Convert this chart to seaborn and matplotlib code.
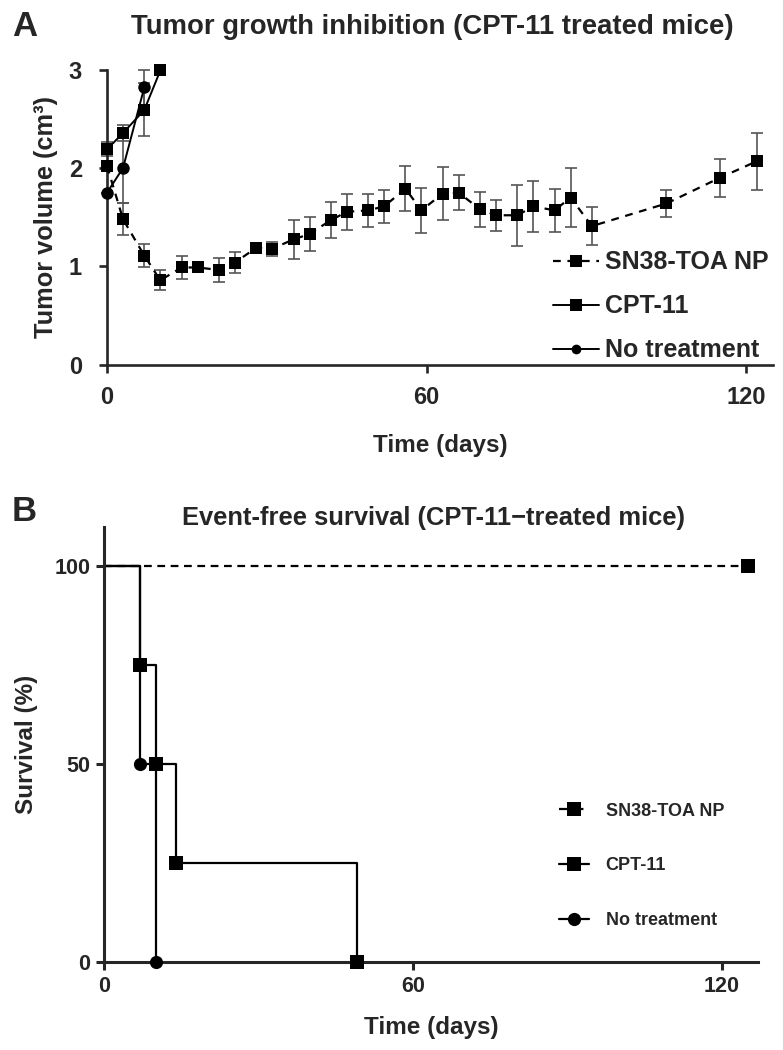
import seaborn as sns
import numpy as np
import pandas as pd
import matplotlib.pyplot as plt
from matplotlib.lines import Line2D

# panel A: tumor volume (cm3), mean +/- error
sn38_days = [0, 3, 7, 10, 14, 17, 21, 24, 28, 31, 35, 38, 42, 45, 49, 52, 56, 59, 63, 66,
             70, 73, 77, 80, 84, 87, 91, 105, 115, 122]
sn38_vol = [2.02, 1.48, 1.11, 0.86, 0.99, 0.99, 0.965, 1.04, 1.19, 1.18, 1.275, 1.33, 1.47, 1.555,
            1.57, 1.61, 1.79, 1.57, 1.74, 1.75, 1.58, 1.52, 1.52, 1.61, 1.57, 1.70, 1.41, 1.64,
            1.90, 2.07]
sn38_err = [0.04, 0.16, 0.12, 0.10, 0.12, 0.03, 0.12, 0.11, 0.05, 0.07, 0.20, 0.17, 0.18, 0.18,
            0.17, 0.17, 0.23, 0.23, 0.27, 0.18, 0.18, 0.155, 0.31, 0.26, 0.22, 0.30, 0.195, 0.14,
            0.19, 0.29]

cpt_days = [0, 3, 7, 10]
cpt_vol = [2.19, 2.355, 2.59, 2.99]
cpt_err = [0.07, 0.085, 0.27, 0.0]

nt_days = [0, 3, 7]
nt_vol = [1.75, 2.0, 2.82]
nt_err = [0.0, 0.36, 0.18]

# panel B: event-free survival (%)
surv_sn38_t = [0, 125]
surv_sn38 = [100, 100]
surv_cpt_t = [0, 7, 10, 14, 49]
surv_cpt = [100, 75, 50, 25, 0]
surv_nt_t = [0, 7, 10]
surv_nt = [100, 50, 0]

labels = ["SN38-TOA NP", "CPT-11", "No treatment"]

sns.set_style("ticks")
plt.rcParams['font.family'] = ['Liberation Sans', 'DejaVu Sans']
plt.rcParams['font.weight'] = 'bold'
plt.rcParams['axes.labelweight'] = 'bold'

fig = plt.figure(figsize=(7.83, 10.5), dpi=100)

# ---------- A ----------
ax1 = fig.add_axes([0.1367, 0.6524, 0.8506, 0.2814])
ecol = "#555555"
for d, v, e in [(sn38_days, sn38_vol, sn38_err), (cpt_days, cpt_vol, cpt_err), (nt_days, nt_vol, nt_err)]:
    ax1.errorbar(d, v, yerr=e, fmt='none', ecolor=ecol, elinewidth=1.2, capsize=4.5,
                 capthick=1.2, zorder=2, clip_on=False)

dfA1 = pd.DataFrame({"day": sn38_days, "vol": sn38_vol})
dfA2 = pd.DataFrame({"day": cpt_days, "vol": cpt_vol})
dfA3 = pd.DataFrame({"day": nt_days, "vol": nt_vol})
sns.lineplot(data=dfA1, x="day", y="vol", ax=ax1, color="k", linestyle=(0, (3.5, 3)),
             linewidth=1.6, marker="s", markersize=9, markeredgewidth=0, errorbar=None,
             clip_on=False, zorder=3)
sns.lineplot(data=dfA2, x="day", y="vol", ax=ax1, color="k", linewidth=1.4,
             marker="s", markersize=9, markeredgewidth=0, errorbar=None, clip_on=False, zorder=3)
sns.lineplot(data=dfA3, x="day", y="vol", ax=ax1, color="k", linewidth=1.4,
             marker="o", markersize=9, markeredgewidth=0, errorbar=None, clip_on=False, zorder=3)

ax1.set_xlim(0, 125)
ax1.set_ylim(0, 3)
ax1.set_xticks([0, 60, 120])
ax1.set_yticks([0, 1, 2, 3])
sns.despine(ax=ax1)
for s in ["left", "bottom"]:
    ax1.spines[s].set_linewidth(1.9)
ax1.tick_params(width=1.9, length=6, labelsize=17)
ax1.tick_params(axis="x", pad=9)
ax1.tick_params(axis="y", pad=12)
ax1.set_xlabel("Time (days)", fontsize=17.5, labelpad=18)
ax1.set_ylabel("Tumor volume (cm\u00b3)", fontsize=18.3, labelpad=8)

handlesA = [
    Line2D([], [], color="k", linestyle=(0, (3.5, 3)), linewidth=1.6, marker="s", markersize=9, markeredgewidth=0),
    Line2D([], [], color="k", linewidth=1.4, marker="s", markersize=9, markeredgewidth=0),
    Line2D([], [], color="k", linewidth=1.4, marker="o", markersize=7, markeredgewidth=0),
]
ax1.legend(handlesA, labels, loc="center left", bbox_to_anchor=(0.669, 0.198), frameon=False,
           fontsize=18, handlelength=1.85, handletextpad=0.25, labelspacing=0.8,
           borderpad=0, borderaxespad=0)

# ---------- B ----------
ax2 = fig.add_axes([0.1332, 0.0841, 0.8349, 0.4143])
dfB1 = pd.DataFrame({"t": surv_sn38_t, "s": surv_sn38})
dfB2 = pd.DataFrame({"t": surv_cpt_t, "s": surv_cpt})
dfB3 = pd.DataFrame({"t": surv_nt_t, "s": surv_nt})
sns.lineplot(data=dfB1, x="t", y="s", ax=ax2, color="k", linestyle=(0, (3.5, 2.5)), linewidth=1.6,
             drawstyle="steps-post", errorbar=None, clip_on=False)
sns.lineplot(data=dfB2, x="t", y="s", ax=ax2, color="k", linewidth=1.6,
             drawstyle="steps-post", errorbar=None, clip_on=False)
sns.lineplot(data=dfB3, x="t", y="s", ax=ax2, color="k", linewidth=1.6,
             drawstyle="steps-post", errorbar=None, clip_on=False)
sns.scatterplot(data=dfB1[dfB1.t > 0], x="t", y="s", ax=ax2, color="k", marker="s", s=90,
                linewidth=0, clip_on=False, zorder=4)
sns.scatterplot(data=dfB2[dfB2.t > 0], x="t", y="s", ax=ax2, color="k", marker="s", s=90,
                linewidth=0, clip_on=False, zorder=4)
sns.scatterplot(data=dfB3[dfB3.t > 0], x="t", y="s", ax=ax2, color="k", marker="o", s=90,
                linewidth=0, clip_on=False, zorder=4)

ax2.set_xlim(0, 127)
ax2.set_ylim(0, 110)
ax2.set_xticks([0, 60, 120])
ax2.set_yticks([0, 50, 100])
sns.despine(ax=ax2)
for s in ["left", "bottom"]:
    ax2.spines[s].set_linewidth(2.2)
ax2.tick_params(width=2.2, length=6, labelsize=15.5, pad=4)
ax2.set_xlabel("Time (days)", fontsize=17.5, labelpad=14)
ax2.set_ylabel("Survival (%)", fontsize=17.5, labelpad=12)

handlesB = [
    Line2D([], [], color="k", linestyle=(0, (4, 3)), linewidth=1.6, marker="s", markersize=9.5, markeredgewidth=0),
    Line2D([], [], color="k", linewidth=1.6, marker="s", markersize=9.5, markeredgewidth=0),
    Line2D([], [], color="k", linewidth=1.6, marker="o", markersize=9.5, markeredgewidth=0),
]
ax2.legend(handlesB, labels, loc="center left", bbox_to_anchor=(0.695, 0.22), frameon=False,
           fontsize=13, handlelength=1.7, handletextpad=0.9, labelspacing=2.1,
           borderpad=0, borderaxespad=0)

# panel titles and letters
fig.text(0.5524, 0.974, "Tumor growth inhibition (CPT-11 treated mice)", ha="center", va="center",
         fontsize=19.8, fontweight="bold")
fig.text(0.554, 0.5067, "Event-free survival (CPT-11\u2212treated mice)", ha="center", va="center",
         fontsize=18.4, fontweight="bold")
fig.text(0.015, 0.9745, "A", ha="left", va="center", fontsize=25, fontweight="bold")
fig.text(0.015, 0.5125, "B", ha="left", va="center", fontsize=25, fontweight="bold")

fig.savefig("out.png", dpi=100)
